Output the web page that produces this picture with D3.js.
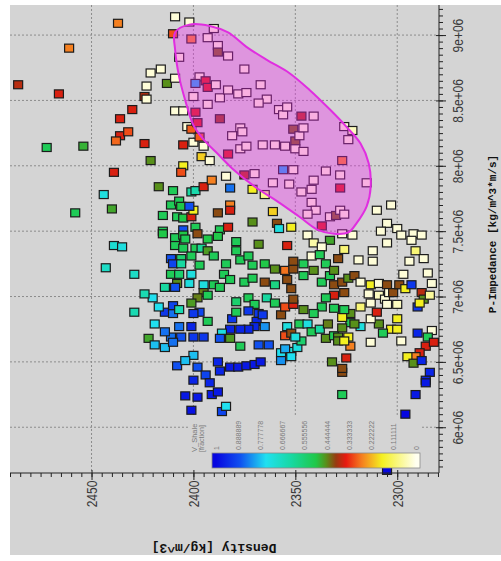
<!DOCTYPE html>
<html>
<head>
<meta charset="utf-8">
<script src="https://cdn.jsdelivr.net/npm/d3@7"></script>
<style>
body { margin: 0; background: #fff; }
svg { display: block; }
</style>
</head>
<body>
<div id="container"></div>
<script>
// axis ticks (impedance in millions)
const densityTicks = [2450, 2400, 2350, 2300];
const impedanceTicks = [6, 6.5, 7, 7.5, 8, 8.5, 9];
const impedanceLabels = ["6e+06", "6.5e+06", "7e+06", "7.5e+06", "8e+06", "8.5e+06", "9e+06"];

// colour bar
const legendValues = [1, 0.888889, 0.777778, 0.666667, 0.555556, 0.444444, 0.333333, 0.222222, 0.111111, 0];
const legendLabels = ["1", "0.888889", "0.777778", "0.666667", "0.555556", "0.444444", "0.333333", "0.222222", "0.111111", "0"];
const vshStops  = [0, 0.17, 0.27, 0.35, 0.40, 0.45, 0.5, 0.62, 0.75, 0.88, 1];
const vshColors = ["#fffff0", "#f4f020", "#f58020", "#e81a10", "#983a10", "#58901a", "#20c848", "#18d8a0", "#20e0f0", "#1050f0", "#0606e0"];

// samples: [density, P-impedance (1e6), V_Shale]
const upperPts = [
  [2409,9.14,.02],[2402,9.10,.02],[2437,9.09,.27],[2461,8.90,.27],[2410,9.01,.31],[2486,8.62,.38],[2466,8.55,.36],
  [2421,8.71,.02],[2416,8.74,.02],[2413,8.63,.45],[2409,8.67,.02],[2423,8.61,.02],[2424,8.53,.38],[2423,8.51,.02],
  [2409,8.42,.02],[2405,8.42,.02],[2430,8.43,.36],[2436,8.36,.36],[2436,8.23,.36],[2432,8.26,.31],[2438,8.19,.29],
  [2424,8.17,.36],[2403,8.30,.02],[2401,8.28,.30],[2400,8.18,.02],[2405,8.16,.36],[2421,8.04,.45],[2472,8.14,.52],
  [2454,8.15,.48],[2396,8.07,.20],[2392,8.04,.02],[2405,8.00,.17],[2406,7.95,.31],[2439,7.95,.36],[2444,7.78,.72],
  [2458,7.64,.52],[2440,7.67,.47],[2417,7.84,.45],[2410,7.81,.52],[2401,7.80,.62],[2399,7.81,.64],[2395,7.84,.36],
  [2391,7.89,.27],[2382,7.83,.85],[2384,7.92,.02],[2375,7.93,.38],[2371,7.82,.17],[2365,7.78,.08],[2382,7.70,.27],
  [2382,7.66,.36],[2388,7.64,.41],[2371,7.57,.45],[2361,7.65,.20],[2359,7.56,.41],[2358,7.52,.72],[2352,7.53,.17],
  [2337,7.54,.36]
];
const whitePts = [
  [2310,7.66,.02],[2303,7.70,.02],[2305,7.56,.02],[2300,7.52,.02],[2308,7.50,.02],[2298,7.47,.02],[2292,7.48,.02],
  [2288,7.47,.02],[2293,7.43,.02],[2305,7.41,.02],[2322,7.47,.02],[2327,7.48,.02],[2333,7.43,.47],[2344,7.47,.02],
  [2341,7.41,.06],[2337,7.38,.02],[2326,7.36,.10],[2319,7.28,.02],[2312,7.27,.02],[2312,7.35,.02],[2291,7.35,.10],
  [2287,7.29,.02],[2294,7.27,.02],[2297,7.17,.02],[2285,7.18,.02],[2283,7.10,.02]
];
const leftPts = [
  [2415,7.62,.52],[2415,7.50,.52],[2415,7.48,.50],[2411,7.70,.52],[2407,7.73,.52],[2406,7.69,.50],[2408,7.61,.52],
  [2405,7.60,.50],[2401,7.61,.36],[2400,7.66,.17],[2402,7.69,.88],[2399,7.53,.52],[2405,7.51,.88],[2409,7.45,.52],
  [2405,7.47,.50],[2409,7.39,.52],[2404,7.44,.52],[2398,7.48,.41],[2393,7.44,.50],[2387,7.51,.52],[2388,7.46,.50],
  [2383,7.53,.36],[2379,7.42,.52],[2379,7.35,.52],[2368,7.40,.45],[2354,7.39,.36],[2405,7.37,.52],[2399,7.37,.52],
  [2396,7.37,.60],[2393,7.35,.46],[2401,7.31,.52],[2406,7.29,.55],[2411,7.29,.88],[2410,7.25,.90],[2406,7.25,.62],
  [2411,7.17,.52],[2407,7.17,.55],[2401,7.17,.72],[2408,7.10,.45],[2402,7.10,.72],[2414,7.07,.62],[2409,7.07,.88],
  [2397,7.24,.52],[2390,7.31,.52],[2384,7.25,.52],[2385,7.17,.52],[2390,7.09,.52],[2395,7.09,.72],[2395,7.03,.44],
  [2398,6.99,.44],[2401,6.95,.46],[2393,7.01,.52],[2387,7.07,.52],[2382,7.13,.52],[2375,7.11,.52],[2377,7.28,.52],
  [2373,7.31,.52],[2371,7.24,.52],[2365,7.25,.50],[2371,7.14,.52],[2365,7.11,.41],[2360,7.21,.45],[2360,7.09,.58],
  [2364,6.99,.62],[2373,6.99,.52],[2370,6.94,.52],[2379,6.96,.55],[2373,6.89,.92],[2368,6.87,.92],[2369,6.81,.95],
  [2370,6.77,.95],[2373,6.75,.95],[2377,6.75,.95],[2381,6.83,.92],[2379,6.88,.52],[2382,6.75,.95],[2386,6.72,.72],
  [2387,6.68,.88],[2382,6.68,.46],[2365,6.77,.82],[2366,6.86,.92],[2393,6.81,.52],[2397,6.88,.90],[2400,6.87,.92],
  [2401,6.77,.95],[2395,6.69,.92],[2400,6.69,.92],[2406,6.69,.88],[2411,6.69,.85],[2414,6.73,.85],[2419,6.79,.75],
  [2422,6.68,.47],[2419,6.63,.78],[2414,6.61,.78],[2410,6.65,.85],[2414,6.88,.92],[2410,6.87,.85],[2407,6.77,.85],
  [2417,6.92,.75],[2420,6.99,.75],[2424,7.02,.65],[2429,6.88,.65],[2429,7.17,.68],[2443,7.22,.68],[2439,7.39,.70],
  [2435,7.38,.72],[2410,6.93,.90],[2407,6.90,.65]
];
const lowerPts = [
  [2400,6.55,.78],[2408,6.47,.88],[2404,6.51,.78],[2398,6.46,.88],[2394,6.40,.90],[2400,6.36,.95],[2392,6.34,.95],
  [2388,6.50,.95],[2387,6.43,.95],[2382,6.46,.97],[2378,6.46,.97],[2374,6.47,.97],[2370,6.48,.97],[2367,6.50,.97],
  [2391,6.25,.97],[2388,6.27,.97],[2404,6.24,.97],[2398,6.23,.97],[2401,6.13,.98],[2386,6.12,.90],[2384,6.16,.75],
  [2377,6.62,.52],[2368,6.63,.88],[2363,6.63,.88]
];
const middlePts = [
  [2360,6.95,.52],[2357,6.86,.41],[2355,6.92,.31],[2351,6.94,.36],[2351,6.98,.41],[2352,7.06,.41],[2354,7.13,.41],
  [2355,7.20,.28],[2351,7.21,.41],[2351,7.27,.41],[2346,7.25,.52],[2341,7.20,.45],[2346,7.16,.52],[2342,7.31,.02],
  [2338,7.32,.52],[2335,7.25,.52],[2337,7.11,.52],[2333,7.16,.52],[2331,7.20,.45],[2329,7.29,.41],[2331,7.09,.41],
  [2327,7.11,.41],[2324,7.14,.45],[2321,7.16,.41],[2326,7.03,.41],[2331,7.01,.36],[2335,6.99,.52],[2337,6.92,.52],
  [2341,6.87,.52],[2346,6.90,.45],[2348,6.79,.52],[2344,6.79,.72],[2354,6.77,.72],[2355,6.70,.31],[2352,6.72,.41],
  [2357,6.57,.75],[2352,6.58,.72],[2349,6.61,.72],[2347,6.66,.55],[2350,6.69,.72],[2355,6.60,.80],[2352,6.54,.75],
  [2357,6.51,.82],[2342,6.73,.52],[2338,6.75,.62],[2334,6.79,.44],[2335,6.68,.45],[2331,6.70,.52],[2323,6.80,.52],
  [2323,6.87,.45],[2327,6.84,.17],[2327,6.76,.45],[2318,6.77,.72],[2321,6.79,.45],[2329,6.69,.45],[2324,6.69,.17],
  [2323,6.62,.27],[2329,6.66,.45],[2326,6.66,.17],[2332,6.50,.45],[2327,6.42,.41],[2327,6.45,.41],[2325,6.53,.36],
  [2327,6.25,.52],[2331,6.91,.52],[2326,6.90,.52]
];
const rightPts = [
  [2318,7.11,.02],[2314,7.02,.02],[2318,6.92,.10],[2313,6.95,.02],[2313,7.09,.17],[2309,7.10,.02],[2309,7.01,.04],
  [2305,7.09,.41],[2306,6.98,.02],[2304,7.03,.02],[2305,6.94,.02],[2300,6.94,.04],[2302,7.03,.41],[2299,7.09,.41],
  [2296,7.06,.17],[2293,7.09,.92],[2290,6.92,.92],[2288,7.03,.38],[2287,6.98,.45],[2284,7.01,.07],[2289,6.95,.17],
  [2300,6.83,.17],[2303,6.75,.17],[2309,6.79,.45],[2313,6.83,.02],[2310,6.88,.36],[2307,6.72,.52],[2313,6.65,.02],
  [2298,6.66,.02],[2300,6.75,.17],[2290,6.72,.95],[2283,6.74,.02],[2285,6.69,.52],[2286,6.62,.36],[2282,6.65,.36],
  [2289,6.57,.36],[2291,6.54,.27],[2295,6.54,.17],[2292,6.49,.45],[2288,6.51,.95],[2284,6.42,.95],[2286,6.36,.95],
  [2286,6.34,.97],[2291,6.25,.97],[2296,6.10,1.0],[2305,5.67,1.0]
];
const fencePts = [
  [2401,8.97,.27],[2393,8.98,.02],[2390,9.05,.02],[2388,8.92,.02],[2388,8.87,.42],[2383,8.84,.02],[2407,8.83,.02],
  [2375,8.74,.02],[2397,8.68,.02],[2394,8.65,.36],[2393,8.60,.36],[2389,8.62,.02],[2399,8.63,.80],[2400,8.53,.02],
  [2387,8.52,.02],[2383,8.58,.02],[2378,8.55,.02],[2374,8.56,.02],[2367,8.62,.02],[2364,8.51,.02],[2368,8.48,.02],
  [2393,8.47,.02],[2399,8.41,.36],[2398,8.33,.36],[2387,8.36,.40],[2377,8.29,.02],[2376,8.26,.02],[2381,8.23,.02],
  [2397,8.22,.30],[2395,8.15,.02],[2377,8.13,.02],[2374,8.15,.02],[2366,8.16,.02],[2360,8.16,.02],[2355,8.15,.02],
  [2351,8.28,.42],[2350,8.19,.42],[2348,8.23,.02],[2350,8.13,.02],[2346,8.11,.02],[2358,8.43,.02],[2356,8.39,.02],
  [2354,8.45,.02],[2347,8.38,.38],[2341,8.38,.02],[2346,8.29,.02],[2326,8.30,.02],[2322,8.27,.04],[2324,8.20,.02],
  [2327,8.04,.27],[2328,7.93,.02],[2328,7.83,.36],[2335,7.96,.02],[2341,7.89,.02],[2342,7.82,.02],[2347,7.80,.02],
  [2353,7.86,.02],[2356,7.97,.80],[2351,7.97,.02],[2361,7.87,.02],[2370,7.94,.02],[2383,8.09,.36],[2342,7.72,.02],
  [2340,7.66,.02],[2344,7.63,.02],[2333,7.61,.02],[2330,7.62,.42],[2328,7.66,.02],[2326,7.63,.02],[2315,7.87,.02]
];

// user-drawn selection polygon: [density, P-impedance (1e6)]
const fenceOutline = [
  [2409,9.02],[2402,9.08],[2392,9.07],[2383,9.02],[2374,8.91],[2364,8.81],[2353,8.71],[2343,8.58],[2333,8.43],
  [2325,8.30],[2318,8.17],[2314,8.02],[2313,7.84],[2315,7.69],[2320,7.56],[2324,7.49],[2331,7.48],[2339,7.51],
  [2348,7.61],[2359,7.73],[2369,7.83],[2381,7.98],[2388,8.09],[2395,8.20],[2400,8.31],[2404,8.50],[2407,8.68],
  [2409,8.89]
];

const W = 501, H = 561;
const bg = "#d4d4d4";
const svg = d3.select("#container").append("svg")
    .attr("width", W)
    .attr("height", H)
    .style("font-family", "'Liberation Sans', Arial, sans-serif");

svg.append("rect").attr("x", 10).attr("y", 5).attr("width", W - 10).attr("height", 550).attr("fill", bg);

const x = d3.scaleLinear().domain([2490, 2279.5]).range([10, 439]);
const y = d3.scaleLinear().domain([5.65, 9.23]).range([473, 5]);
const color = d3.scaleLinear().domain(vshStops).range(vshColors).clamp(true);

// grid
const grid = svg.append("g").attr("stroke", "#8c8c8c").attr("stroke-width", 1).attr("stroke-dasharray", "2,2");
grid.selectAll(".gx").data(densityTicks).enter().append("line")
    .attr("x1", d => x(d)).attr("x2", d => x(d)).attr("y1", 5).attr("y2", 473);
grid.selectAll(".gy").data(impedanceTicks).enter().append("line")
    .attr("x1", 10).attr("x2", 439).attr("y1", d => y(d)).attr("y2", d => y(d));

// legend background hides the grid
svg.append("rect").attr("x", 189).attr("y", 417).attr("width", 233).attr("height", 55).attr("fill", bg);

// points
const allPts = [].concat(upperPts, whitePts, leftPts, lowerPts, middlePts, rightPts, fencePts);
svg.append("g").selectAll("rect").data(allPts).enter().append("rect")
    .attr("x", d => x(d[0]) - 4.5)
    .attr("y", d => y(d[1]) - 4)
    .attr("width", 9)
    .attr("height", 8)
    .attr("fill", d => color(d[2]))
    .attr("stroke", "#1c1c1c")
    .attr("stroke-width", 1.2);

// selection polygon
const fenceLine = d3.line().x(d => x(d[0])).y(d => y(d[1])).curve(d3.curveCatmullRomClosed);
svg.append("path")
    .attr("d", fenceLine(fenceOutline))
    .attr("fill", "rgba(240,40,240,0.36)")
    .attr("stroke", "#e02ee0")
    .attr("stroke-width", 2);

// right axis (P-Impedance)
const yMinor = d3.range(114, 185).map(i => i / 20);
svg.append("g").attr("transform", "translate(439,0)")
    .call(d3.axisRight(y).tickValues(yMinor).tickSize(4).tickSizeOuter(0).tickFormat(""))
    .call(g => g.select(".domain").remove())
    .selectAll("line").attr("stroke", "#222");
const yAxis = svg.append("g").attr("transform", "translate(439,0)")
    .call(d3.axisRight(y).tickValues(impedanceTicks).tickSize(7).tickSizeOuter(0)
        .tickFormat((d, i) => impedanceLabels[i]));
yAxis.select(".domain").attr("stroke", "#222").attr("d", "M0,5V473");
yAxis.selectAll("line").attr("stroke", "#222").attr("x1", -3);
yAxis.selectAll("text")
    .attr("x", null).attr("dy", null)
    .attr("transform", "translate(19,0) rotate(-90) scale(1,1.25)")
    .attr("text-anchor", "middle")
    .attr("dominant-baseline", "central")
    .attr("fill", "#3a3a3a")
    .style("font-size", "12px")
    .style("font-family", "'Liberation Sans', Arial, sans-serif");

// bottom axis (Density)
const xMinor = d3.range(2280, 2491, 5);
svg.append("g").attr("transform", "translate(0,473)")
    .call(d3.axisBottom(x).tickValues(xMinor).tickSize(4).tickSizeOuter(0).tickFormat(""))
    .call(g => g.select(".domain").remove())
    .selectAll("line").attr("stroke", "#222");
const xAxis = svg.append("g").attr("transform", "translate(0,473)")
    .call(d3.axisBottom(x).tickValues(densityTicks).tickSize(7).tickSizeOuter(0).tickFormat(d3.format("d")));
xAxis.select(".domain").attr("stroke", "#222").attr("d", "M10,0H439");
xAxis.selectAll("line").attr("stroke", "#222").attr("y1", -3);
xAxis.selectAll("text")
    .attr("y", null).attr("dy", null)
    .attr("transform", "translate(0,21) rotate(-90) scale(1,1.25)")
    .attr("text-anchor", "middle")
    .attr("dominant-baseline", "central")
    .attr("fill", "#3a3a3a")
    .style("font-size", "12px")
    .style("font-family", "'Liberation Sans', Arial, sans-serif");

// axis titles
svg.append("text")
    .attr("transform", "translate(493,234) rotate(-90)")
    .attr("text-anchor", "middle")
    .attr("dominant-baseline", "central")
    .style("font-family", "'Liberation Mono', 'DejaVu Sans Mono', monospace")
    .style("font-weight", "bold")
    .style("font-size", "11px")
    .attr("fill", "#111")
    .text("P-Impedance [kg/m^3*m/s]");
svg.append("text")
    .attr("transform", "translate(214,547) rotate(180)")
    .attr("text-anchor", "middle")
    .attr("dominant-baseline", "central")
    .style("font-family", "'Liberation Mono', 'DejaVu Sans Mono', monospace")
    .style("font-weight", "bold")
    .style("font-size", "13px")
    .attr("fill", "#111")
    .text("Density [kg/m^3]");

// colour bar (left = 1, right = 0)
const lx = d3.scaleLinear().domain([1, 0]).range([216, 416]);
const gradStops = vshStops.map((v, i) => ({ v: v, c: vshColors[i] })).reverse();
const grad = svg.append("defs").append("linearGradient").attr("id", "vsh")
    .attr("x1", "0%").attr("x2", "100%").attr("y1", "0%").attr("y2", "0%");
grad.selectAll("stop").data(gradStops).enter().append("stop")
    .attr("offset", d => ((lx(d.v) - 212) / 208 * 100) + "%")
    .attr("stop-color", d => d.c);
svg.append("rect").attr("x", 212).attr("y", 453).attr("width", 208).attr("height", 15)
    .attr("fill", "url(#vsh)").attr("stroke", "#8a8a8a").attr("stroke-width", 0.8);
svg.append("g").selectAll("text").data(legendValues).enter().append("text")
    .attr("transform", d => `translate(${lx(d)},450) rotate(-90)`)
    .attr("dominant-baseline", "central")
    .attr("fill", "#7a7a7a")
    .style("font-size", "7px")
    .text((d, i) => legendLabels[i]);
svg.append("text")
    .attr("transform", "translate(194,452) rotate(-90)")
    .attr("dominant-baseline", "central")
    .attr("fill", "#7a7a7a")
    .style("font-size", "7.5px")
    .text("V_Shale");
svg.append("text")
    .attr("transform", "translate(201,452) rotate(-90)")
    .attr("dominant-baseline", "central")
    .attr("fill", "#7a7a7a")
    .style("font-size", "7px")
    .text("[fraction]");
</script>
</body>
</html>
